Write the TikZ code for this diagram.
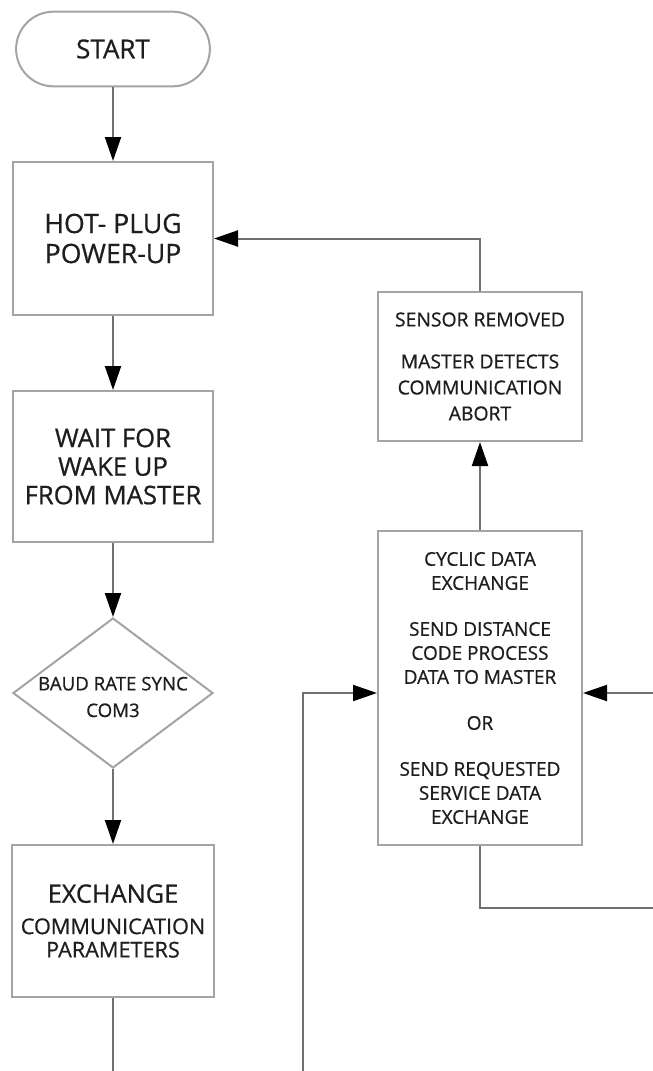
\documentclass[tikz,border=0pt]{standalone}
\usepackage{fontspec}
\setmainfont{Open Sans}[FakeBold=0.7]
\usetikzlibrary{shapes.geometric,shapes.misc,arrows.meta,calc}
\definecolor{boxcol}{HTML}{A4A4A4}
\definecolor{linecol}{HTML}{707070}
\definecolor{txtcol}{HTML}{1E1E1E}
\begin{document}
\begin{tikzpicture}[x=0.75pt,y=-0.75pt,
  boxnode/.style={draw=boxcol,line width=1.5pt,rectangle,align=center,text=txtcol,inner sep=2pt},
  termnode/.style={draw=boxcol,line width=1.5pt,rounded rectangle,text=txtcol,minimum width=152pt,minimum height=56pt,font=\fontsize{19.5}{22}\selectfont},
  decnode/.style={draw=boxcol,line width=1.5pt,diamond,inner sep=0pt,minimum width=150pt,minimum height=112.5pt},
  lbl/.style={align=center,text=txtcol,inner sep=0pt},
  conn/.style={draw=linecol,line width=1.5pt},
  arr/.style={conn,-{Triangle[length=18pt,width=12pt,color=black]}}
]
\useasboundingbox[fill=white] (0,0) rectangle (653,1071);

\node[termnode] (start) at (113,49) {START};

\node[boxnode,minimum width=150pt,minimum height=114.75pt,
  font=\fontsize{20}{22.5}\selectfont] (hot) at (113,238.5) {HOT- PLUG\\POWER-UP};

\node[boxnode,minimum width=150pt,minimum height=113.25pt,
  font=\fontsize{19.25}{21.4}\selectfont] (wait) at (113,466.5) {WAIT FOR\\WAKE UP\\FROM MASTER};

\node[decnode] (dec) at (113,693) {};
\node[lbl,font=\fontsize{14}{20}\selectfont] (dect) at (113,697) {BAUD RATE SYNC\\COM3};

\node[boxnode,minimum width=151pt,minimum height=114pt,
  font=\fontsize{16.25}{17.5}\selectfont] (exch) at (113,921)
  {{\fontsize{19}{22}\selectfont EXCHANGE}\\[6pt]COMMUNICATION\\PARAMETERS};

\node[boxnode,minimum width=153pt,minimum height=111.75pt,
  font=\fontsize{14.5}{19.5}\selectfont] (sens) at (480,366.5)
  {SENSOR REMOVED\\[12pt]MASTER DETECTS\\COMMUNICATION\\ABORT};

\node[boxnode,minimum width=153pt,minimum height=235.5pt,
  font=\fontsize{14.25}{18}\selectfont] (cyc) at (480,688)
  {CYCLIC DATA\\EXCHANGE\\[16.5pt]SEND DISTANCE\\CODE PROCESS\\DATA TO MASTER\\[16.5pt]OR\\[16.5pt]SEND REQUESTED\\SERVICE DATA\\EXCHANGE};

\coordinate (exend) at (113,1071);
\coordinate (lbot) at (303,1071);
\coordinate (rin) at (653,693);
\coordinate (rout) at (653,908);

\draw[arr] (start.south) -- (hot.north);
\draw[arr] (hot.south) -- (wait.north);
\draw[arr] (wait.south) -- (dec.north);
\draw[arr] (dec.south) -- (exch.north);
\draw[conn] (exch.south) -- (exend);
\draw[arr] (lbot) |- (cyc.west |- rin);
\draw[arr] (rin) -- (cyc.east |- rin);
\draw[conn] (cyc.south) |- (rout);
\draw[arr] (cyc.north) -- (sens.south);
\draw[arr] (sens.north) |- (hot.east);
\end{tikzpicture}
\end{document}
